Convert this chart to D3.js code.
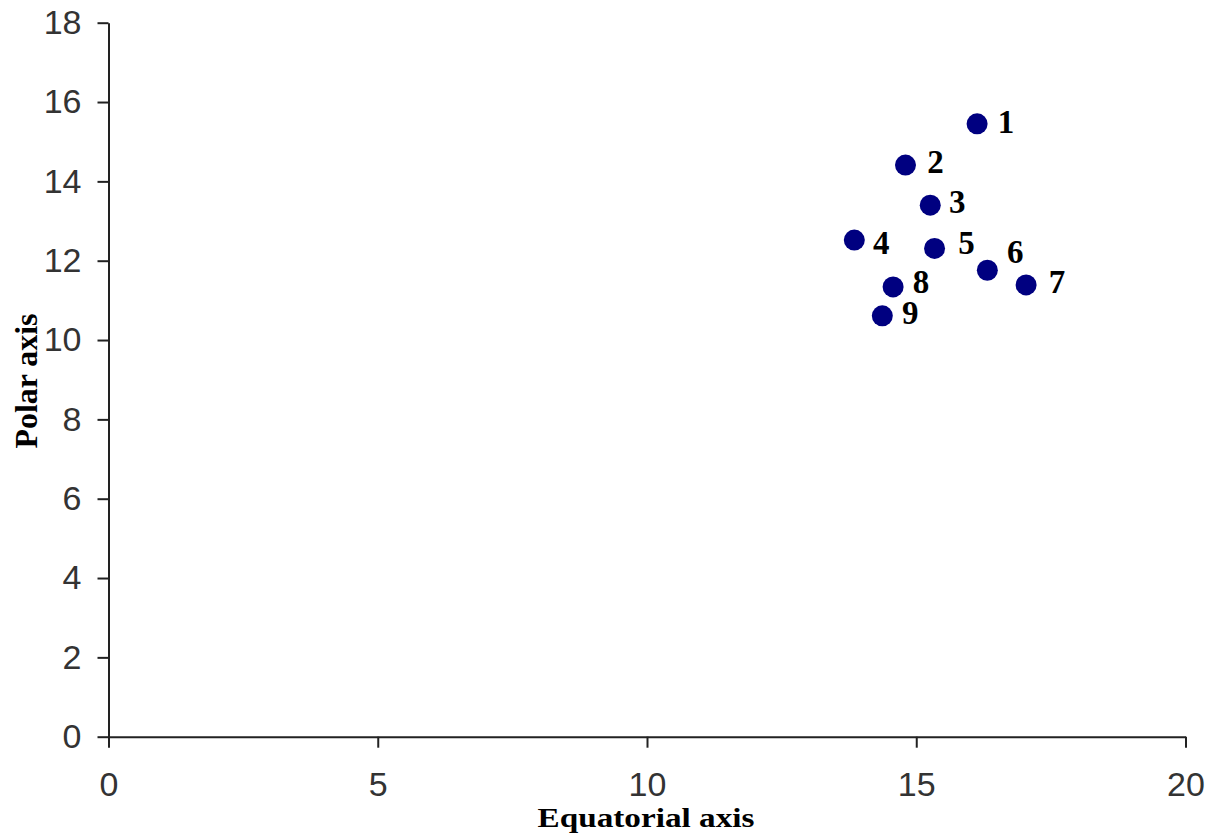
<!DOCTYPE html>
<html>
<head>
<meta charset="utf-8">
<script src="https://cdn.jsdelivr.net/npm/d3@7"></script>
<style>
  body { margin: 0; background: #fff; }
  svg { display: block; }
</style>
</head>
<body>
<svg id="grafico"></svg>
<script>
// Datos
var etiquetas = ["1", "2", "3", "4", "5", "6", "7", "8", "9"];
var ejeEcuatorial = [16.13, 14.80, 15.26, 13.85, 15.34, 16.32, 17.04, 14.57, 14.37];
var ejePolar = [15.45, 14.41, 13.40, 12.52, 12.31, 11.76, 11.39, 11.34, 10.61];
var ticksX = [0, 5, 10, 15, 20];
var ticksY = [0, 2, 4, 6, 8, 10, 12, 14, 16, 18];

// Desplazamiento de cada etiqueta respecto a su punto (en pixeles)
var desplaz = {
    "1": [29, -2], "2": [30, -3], "3": [27, -3], "4": [27, 3], "5": [32, -5],
    "6": [28, -18], "7": [31, -3], "8": [28, -5], "9": [28, -3]
};

var ancho = 1206, alto = 833;
var izq = 108.5, der = 1185.5, arriba = 22.7, abajo = 736.7;

var svg = d3.select("#grafico")
    .attr("width", ancho)
    .attr("height", alto);

var x = d3.scaleLinear().domain([0, 20]).range([izq, der]);
var y = d3.scaleLinear().domain([0, 18]).range([abajo, arriba]);

// Ejes
var ejeX = svg.append("g")
    .attr("transform", "translate(0," + abajo + ")")
    .call(d3.axisBottom(x).tickValues(ticksX).tickSize(11).tickSizeOuter(0).tickPadding(24));
var ejeY = svg.append("g")
    .attr("transform", "translate(" + izq + ",0)")
    .call(d3.axisLeft(y).tickValues(ticksY).tickSize(11).tickSizeOuter(0).tickPadding(16));

[ejeX, ejeY].forEach(function(g){
    g.selectAll("path, line").attr("stroke", "#222").attr("stroke-width", 2);
    g.selectAll("text")
        .attr("fill", "#333")
        .style("font-family", "'Liberation Sans', Arial, sans-serif")
        .style("font-size", "34px");
});

// Puntos
var datos = etiquetas.map(function(e, i){
    return { nombre: e, ex: ejeEcuatorial[i], po: ejePolar[i] };
});

svg.append("g")
    .selectAll("circle")
    .data(datos)
    .enter()
    .append("circle")
    .attr("cx", d => x(d.ex))
    .attr("cy", d => y(d.po))
    .attr("r", 10.5)
    .attr("fill", "#000080");

svg.append("g")
    .selectAll("text")
    .data(datos)
    .enter()
    .append("text")
    .attr("x", d => x(d.ex) + desplaz[d.nombre][0])
    .attr("y", d => y(d.po) + desplaz[d.nombre][1])
    .attr("text-anchor", "middle")
    .attr("dominant-baseline", "central")
    .style("font-family", "'Liberation Serif', 'Times New Roman', serif")
    .style("font-weight", "bold")
    .style("font-size", "33px")
    .attr("fill", "#000")
    .text(d => d.nombre);

// Titulos de los ejes
svg.append("text")
    .attr("transform", "translate(37,381) rotate(-90)")
    .attr("text-anchor", "middle")
    .attr("textLength", 135)
    .attr("lengthAdjust", "spacingAndGlyphs")
    .style("font-family", "'Liberation Serif', 'Times New Roman', serif")
    .style("font-weight", "bold")
    .style("font-size", "31px")
    .text("Polar axis");

svg.append("text")
    .attr("x", 646)
    .attr("y", 827)
    .attr("text-anchor", "middle")
    .attr("textLength", 217)
    .attr("lengthAdjust", "spacingAndGlyphs")
    .style("font-family", "'Liberation Serif', 'Times New Roman', serif")
    .style("font-weight", "bold")
    .style("font-size", "28px")
    .text("Equatorial axis");
</script>
</body>
</html>
